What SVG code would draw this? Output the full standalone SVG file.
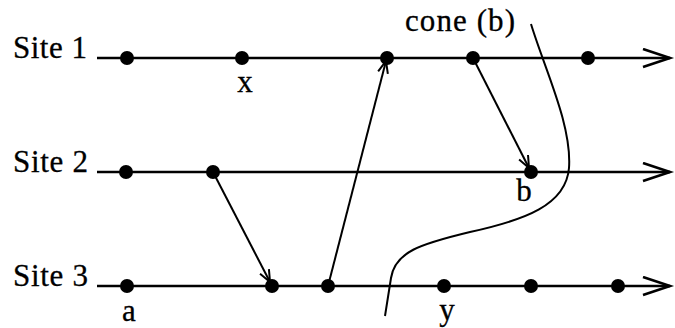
<svg xmlns="http://www.w3.org/2000/svg" width="675" height="328" viewBox="0 0 675 328">
<style>
.lbl{font-family:"Liberation Serif","Times New Roman",serif;font-size:31px;fill:#000;stroke:#000;stroke-width:0.3}
.tl{stroke:#000;stroke-width:2.4;fill:none}
.msg{stroke:#000;stroke-width:2;fill:none}
.dot{fill:#000}
</style>
<defs>
<marker id="big" markerUnits="userSpaceOnUse" markerWidth="34" markerHeight="24" refX="28" refY="10" orient="auto">
<path d="M1,1 L28,10 L1,19" fill="none" stroke="#000" stroke-width="2.6"/>
</marker>
<marker id="small" markerUnits="userSpaceOnUse" markerWidth="16" markerHeight="14" refX="13" refY="6" orient="auto">
<path d="M1,1 L13,6 L1,11" fill="none" stroke="#000" stroke-width="2"/>
</marker>
</defs>
<rect width="675" height="328" fill="#fff"/>
<g id="site1">
<text class="lbl" x="13" y="58" textLength="74" lengthAdjust="spacing">Site 1</text>
<line class="tl" x1="97" y1="58" x2="670" y2="58" marker-end="url(#big)"/>
<circle class="dot" cx="127" cy="58" r="7"/>
<circle class="dot" cx="242" cy="58" r="7"/>
<circle class="dot" cx="387" cy="58" r="7"/>
<circle class="dot" cx="473" cy="58" r="7"/>
<circle class="dot" cx="588" cy="58" r="7"/>
<text class="lbl" x="245" y="92" text-anchor="middle">x</text>
</g>
<g id="site2">
<text class="lbl" x="13" y="172" textLength="75" lengthAdjust="spacing">Site 2</text>
<line class="tl" x1="97" y1="172" x2="670" y2="172" marker-end="url(#big)"/>
<circle class="dot" cx="126" cy="172" r="7"/>
<circle class="dot" cx="213" cy="172" r="7"/>
<circle class="dot" cx="531" cy="172" r="7"/>
<text class="lbl" x="524" y="201" text-anchor="middle">b</text>
</g>
<g id="site3">
<text class="lbl" x="13" y="286" textLength="75" lengthAdjust="spacing">Site 3</text>
<line class="tl" x1="97" y1="286" x2="670" y2="286" marker-end="url(#big)"/>
<circle class="dot" cx="127" cy="286" r="7"/>
<circle class="dot" cx="272" cy="286" r="7"/>
<circle class="dot" cx="328" cy="286" r="7"/>
<circle class="dot" cx="444" cy="286" r="7"/>
<circle class="dot" cx="531" cy="286" r="7"/>
<circle class="dot" cx="618" cy="286" r="7"/>
<text class="lbl" x="129" y="321" text-anchor="middle">a</text>
<text class="lbl" x="447" y="320" text-anchor="middle">y</text>
</g>
<g id="connectors">
<line class="msg" x1="213" y1="172" x2="270" y2="282" marker-end="url(#small)"/>
<line class="msg" x1="328" y1="286" x2="386" y2="61" marker-end="url(#small)"/>
<line class="msg" x1="473" y1="58" x2="529" y2="168" marker-end="url(#small)"/>
</g>
<g id="cone">
<path class="msg" d="M531,24 C545,70 572,125 569,168 C566,205 525,220 470,232 C420,244 395,252 391,278 L385,316"/>
<text class="lbl" x="405" y="31" textLength="110" lengthAdjust="spacing">cone (b)</text>
</g>
</svg>
